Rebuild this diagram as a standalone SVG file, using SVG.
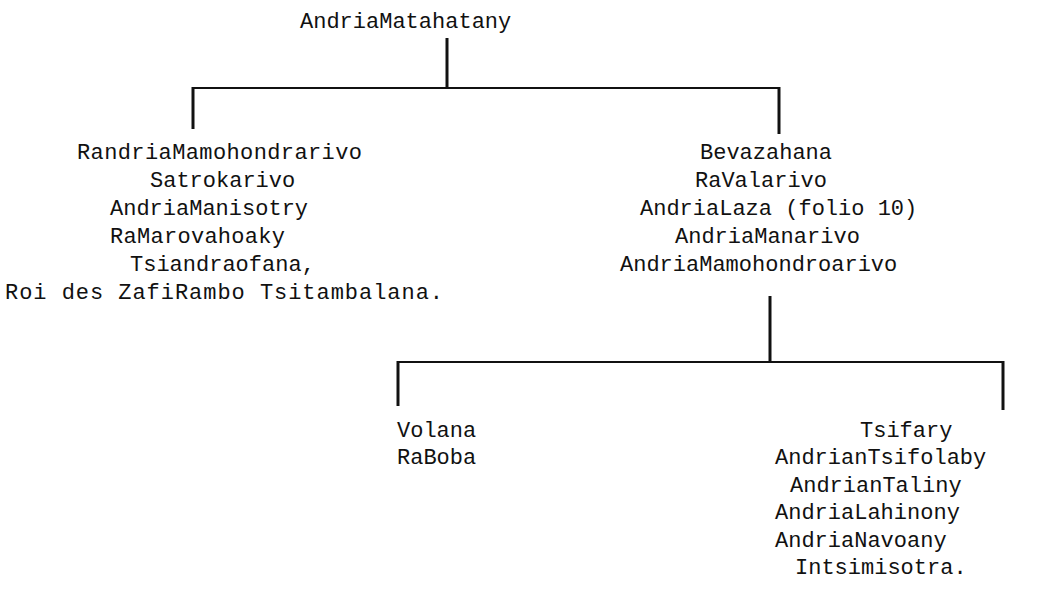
<svg xmlns="http://www.w3.org/2000/svg" width="1043" height="600" viewBox="0 0 1043 600">
<style>
text{font-family:"Liberation Mono","DejaVu Sans Mono",monospace;font-size:22px;fill:#111}
.h{stroke:#111;stroke-width:2;fill:none}
.v{stroke:#111;stroke-width:3;fill:none}
</style>
<rect width="1043" height="600" fill="#fff"/>
<g id="connectors">
<line class="v" x1="447" y1="38" x2="447" y2="88"/>
<line class="h" x1="192" y1="88" x2="780" y2="88"/>
<line class="v" x1="193" y1="87" x2="193" y2="129"/>
<line class="v" x1="779" y1="87" x2="779" y2="134"/>
<line class="v" x1="770" y1="296" x2="770" y2="362"/>
<line class="h" x1="397" y1="362" x2="1004" y2="362"/>
<line class="v" x1="398" y1="361" x2="398" y2="406"/>
<line class="v" x1="1003" y1="361" x2="1003" y2="410"/>
</g>
<g id="root"><text x="300" y="28">AndriaMatahatany</text></g>
<g id="left">
<text x="77" y="159" textLength="285">RandriaMamohondrarivo</text>
<text x="150" y="187">Satrokarivo</text>
<text x="110" y="215">AndriaManisotry</text>
<text x="110" y="243" textLength="175">RaMarovahoaky</text>
<text x="130" y="271">Tsiandraofana,</text>
<text x="5" y="299" textLength="438">Roi des ZafiRambo Tsitambalana.</text>
</g>
<g id="right">
<text x="700" y="159">Bevazahana</text>
<text x="695" y="187">RaValarivo</text>
<text x="640" y="215">AndriaLaza (folio 10)</text>
<text x="675" y="243">AndriaManarivo</text>
<text x="620" y="271">AndriaMamohondroarivo</text>
</g>
<g id="bottom-left">
<text x="397" y="437">Volana</text>
<text x="397" y="464">RaBoba</text>
</g>
<g id="bottom-right">
<text x="860" y="437">Tsifary</text>
<text x="775" y="464">AndrianTsifolaby</text>
<text x="790" y="492">AndrianTaliny</text>
<text x="775" y="519">AndriaLahinony</text>
<text x="775" y="547">AndriaNavoany</text>
<text x="795" y="574">Intsimisotra.</text>
</g>
</svg>
